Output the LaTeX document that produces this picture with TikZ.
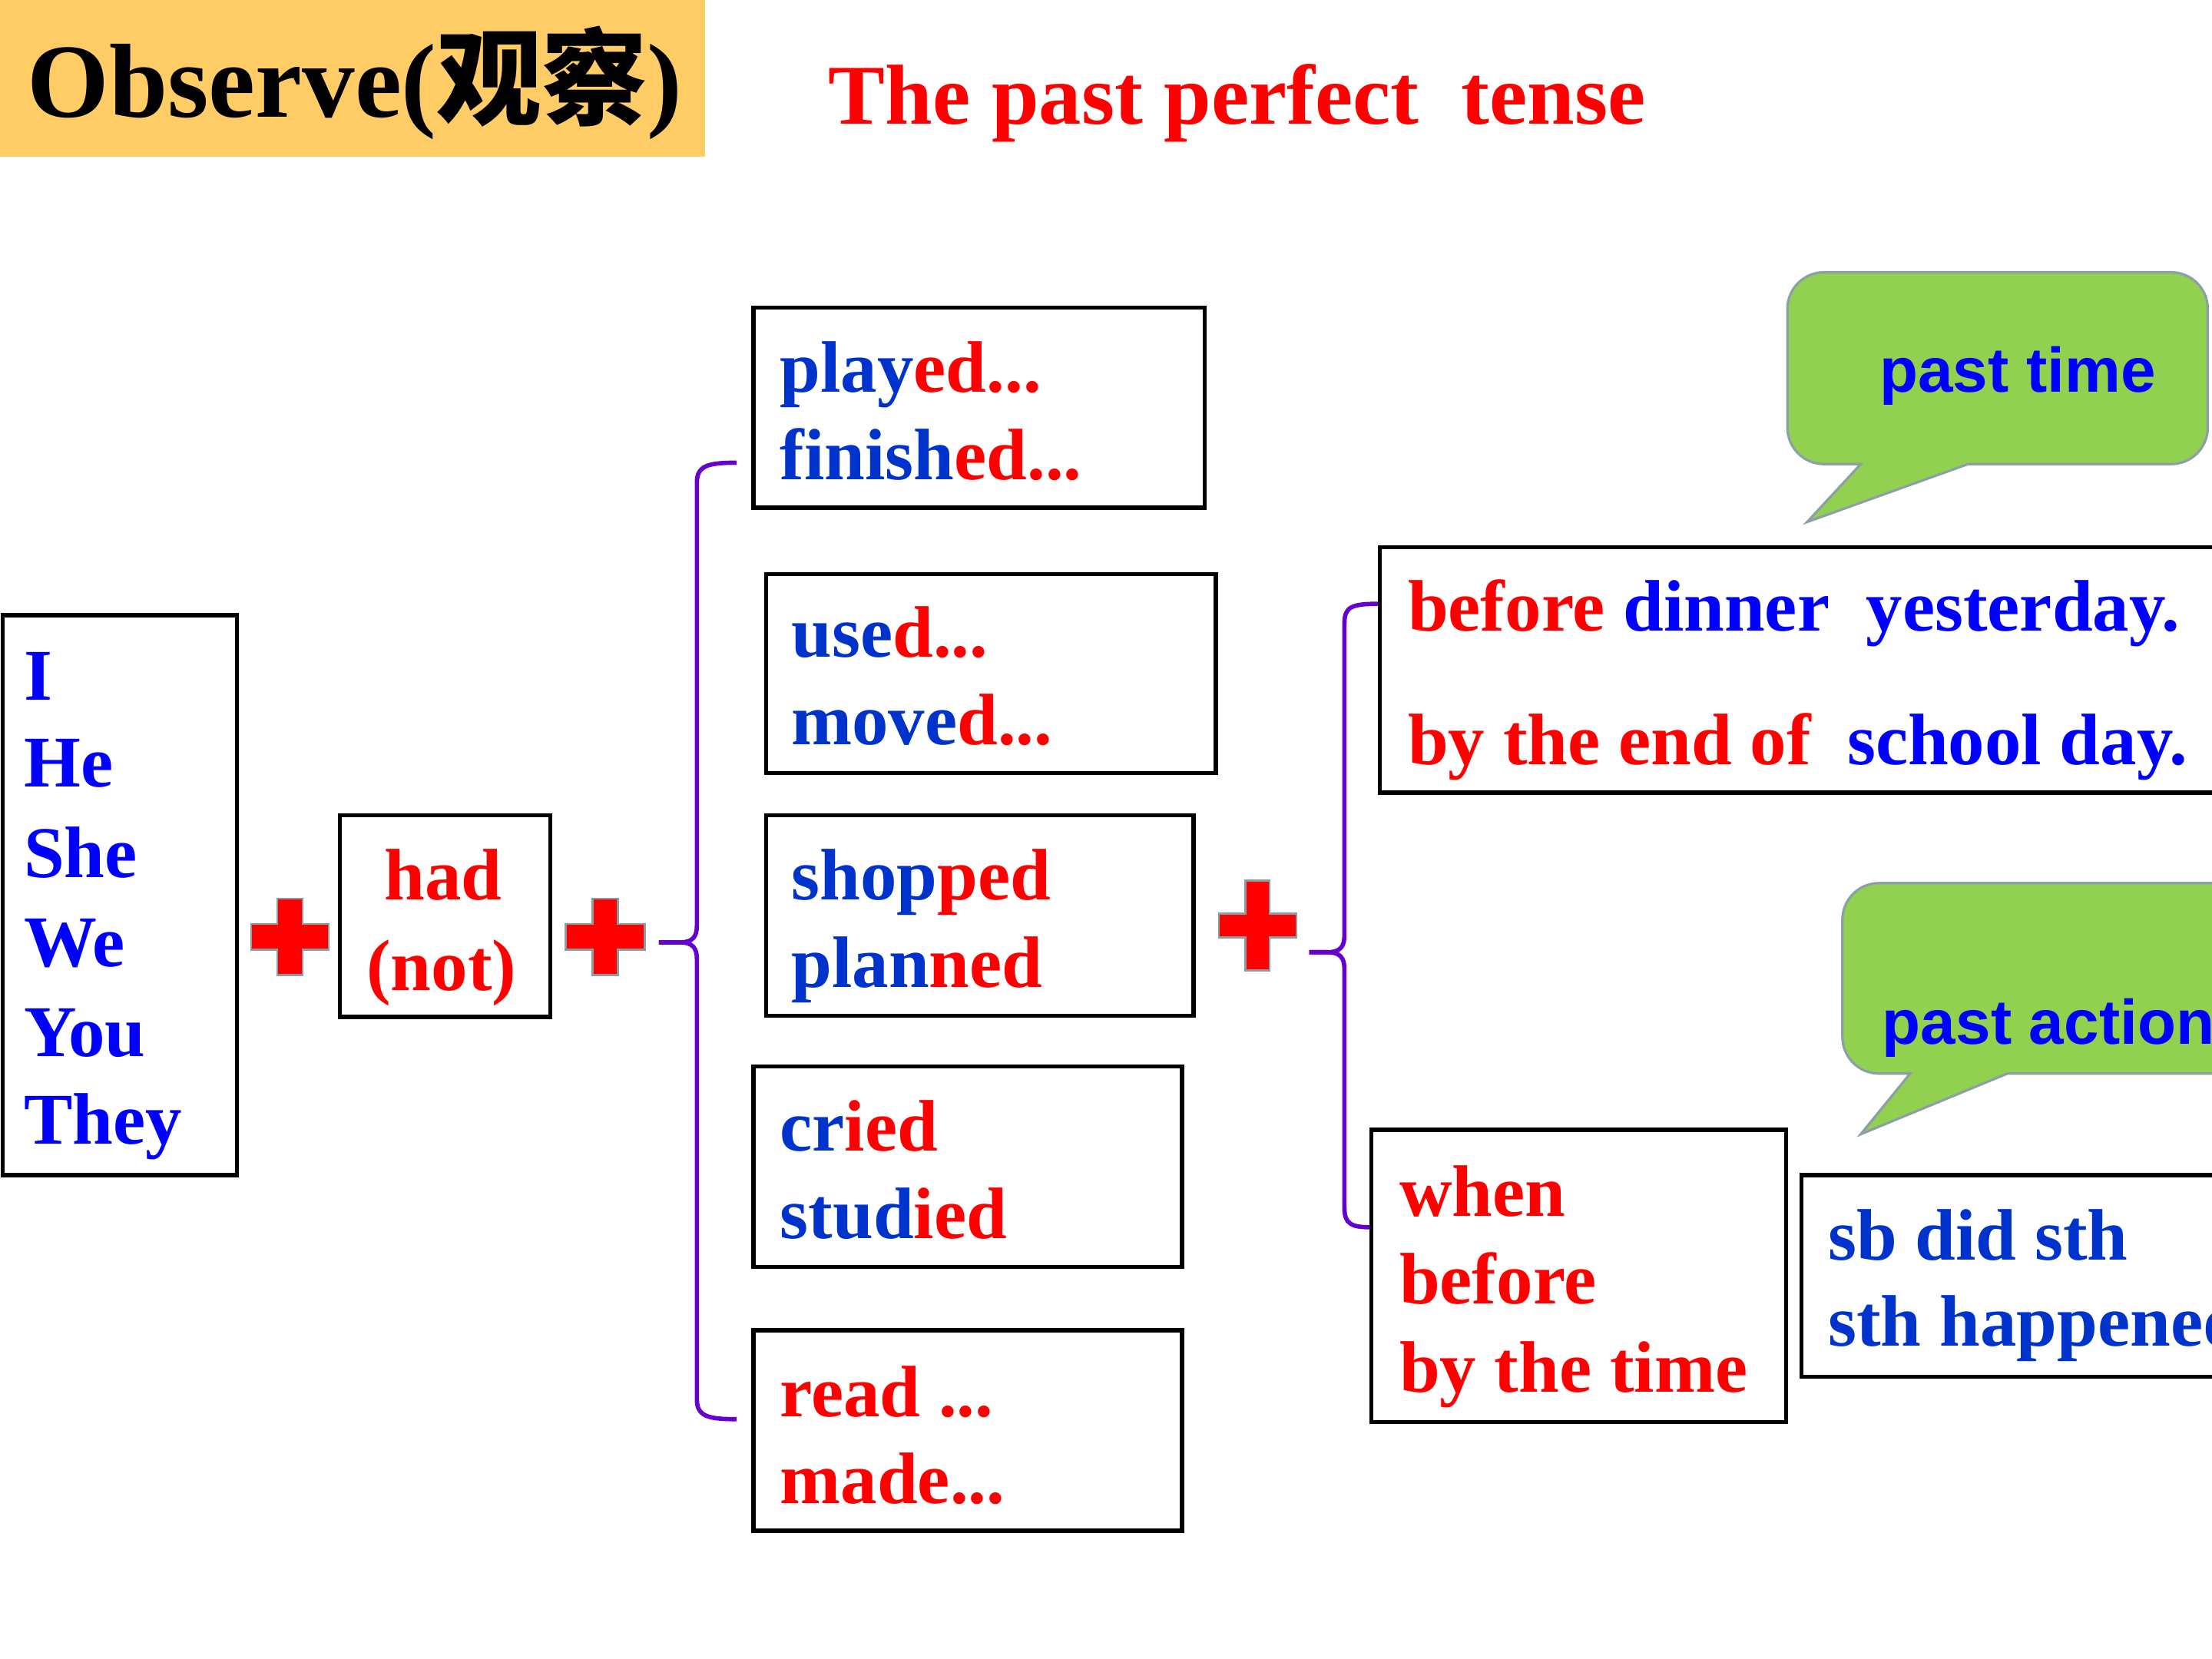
\documentclass[tikz,border=0pt]{standalone}
\usepackage{fontspec}
\setmainfont{Liberation Serif}
\newfontfamily\cjkfont{Noto Sans CJK SC}
\newfontfamily\arialfont{Liberation Sans}
\usetikzlibrary{fit}
\definecolor{vblue}{HTML}{0033CC}
\definecolor{pblue}{HTML}{0000FF}
\definecolor{myred}{HTML}{FF0000}
\definecolor{purp}{HTML}{6600CC}
\definecolor{orng}{HTML}{FFCC66}
\definecolor{bgreen}{HTML}{92D050}
\definecolor{bgrey}{HTML}{8A9FA8}
\definecolor{pgrey}{HTML}{8C9CA4}
\newcommand\redplus[5]{%
  \draw[plusst] ({#1-#5},{#2-#4}) -- ({#1+#5},{#2-#4}) -- ({#1+#5},{#2-#5}) -- ({#1+#3},{#2-#5})
   -- ({#1+#3},{#2+#5}) -- ({#1+#5},{#2+#5}) -- ({#1+#5},{#2+#4}) -- ({#1-#5},{#2+#4})
   -- ({#1-#5},{#2+#5}) -- ({#1-#3},{#2+#5}) -- ({#1-#3},{#2-#5}) -- ({#1-#5},{#2-#5}) -- cycle;}
\newcommand\bl[1]{\textcolor{vblue}{#1}}
\newcommand\rd[1]{\textcolor{myred}{#1}}
\tikzset{
  box/.style={draw=black, line width=1.6pt, inner sep=0pt},
  txt/.style={anchor=base west, inner sep=0pt, outer sep=0pt, font=\fontsize{27pt}{27pt}\selectfont\bfseries},
  ctxt/.style={txt, anchor=base},
  bubtxt/.style={anchor=base west, inner sep=0pt, text=pblue, font=\arialfont\fontsize{23.3pt}{23.3pt}\selectfont\bfseries},
  bracest/.style={draw=purp, line width=1.6pt},
  plusst/.style={fill=myred, draw=pgrey, line width=0.8pt},
  bubble/.style={fill=bgreen, draw=bgrey, line width=0.9pt},
}
\begin{document}
\begin{tikzpicture}[x=0.183673mm, y=-0.183673mm]
\useasboundingbox (0,0) rectangle (1568,1176);
\fill[white] (0,0) rectangle (1568,1176);
\clip (0,0) rectangle (1568,1176);

% title
\node[fill=orng, inner sep=0pt, fit={(0,0) (500,111)}] (titlebox) {};
\node[anchor=base west, inner sep=0pt, font=\fontsize{39pt}{39pt}\selectfont\bfseries] (observe) at (19,83) {Observe({\cjkfont\bfseries 观察})};
\node[anchor=base west, inner sep=0pt, text=myred, font=\fontsize{31.5pt}{31.5pt}\selectfont\bfseries] (tense) at (587,88) {The past perfect\ \ tense};

% pronouns
\node[box, fit={(2,436) (168,833)}] (pron) {};
\node[txt, text=pblue] (p1) at (17,496) {I};
\node[txt, text=pblue] (p2) at (17,558) {He};
\node[txt, text=pblue] (p3) at (17,622) {She};
\node[txt, text=pblue] (p4) at (17,685) {We};
\node[txt, text=pblue] (p5) at (17,749) {You};
\node[txt, text=pblue] (p6) at (17,811) {They};

\redplus{205.5}{664}{27.5}{27}{9}

% had
\node[box, fit={(241,578) (390,721)}] (had) {};
\node[ctxt, text=myred] (had1) at (314,638) {had};
\node[ctxt, text=myred] (had2) at (313,702) {(not)};

\redplus{429}{664}{28}{27}{9}

% brace 1
\coordinate (b1top) at (522,328);
\coordinate (b1bot) at (522,1006);
\coordinate (b1tip) at (467,668);
\draw[bracest] (b1top) .. controls (502,328) and (494,330) .. (494,342) -- (494,656)
  .. controls (494,664) and (491,668) .. (482,668) -- (b1tip);
\draw[bracest] (b1tip) -- (482,668) .. controls (491,668) and (494,672) .. (494,680)
  -- (494,992) .. controls (494,1004) and (502,1006) .. (b1bot);

% verb boxes
\node[box, fit={(534,218) (854,360)}] (played) {};
\node[txt] (v1) at (553,278) {\bl{play}\rd{ed...}};
\node[txt] (v2) at (553,340) {\bl{finish}\rd{ed...}};

\node[box, fit={(543,407) (862,548)}] (used) {};
\node[txt] (v3) at (561,466) {\bl{use}\rd{d...}};
\node[txt] (v4) at (561,528) {\bl{move}\rd{d...}};

\node[box, fit={(543,578) (846,720)}] (shopped) {};
\node[txt] (v5) at (561,638) {\bl{shop}\rd{ped}};
\node[txt] (v6) at (561,700) {\bl{plan}\rd{ned}};

\node[box, fit={(534,756) (838,898)}] (cried) {};
\node[txt] (v7) at (553,816) {\bl{cr}\rd{ied}};
\node[txt] (v8) at (553,878) {\bl{stud}\rd{ied}};

\node[box, fit={(534,943) (838,1085)}] (readb) {};
\node[txt, text=myred] (v9) at (553,1004) {read ...};
\node[txt, text=myred] (v10) at (553,1066) {made...};

\redplus{891.5}{656}{27.5}{32}{8.5}

% brace 2
\coordinate (b2top) at (978,428);
\coordinate (b2bot) at (973,870);
\coordinate (b2tip) at (928,675);
\draw[bracest] (b2top) .. controls (958,428) and (953,430) .. (953,442) -- (953,663)
  .. controls (953,671) and (950,675) .. (941,675) -- (b2tip);
\draw[bracest] (b2tip) -- (941,675) .. controls (950,675) and (953,679) .. (953,687)
  -- (953,856) .. controls (953,868) and (958,870) .. (b2bot);

% time expressions
\node[box, fit={(978,388) (1600,562)}] (timebox) {};
\node[txt] (t1) at (998,447) {\rd{before} \textcolor{pblue}{dinner\ \ yesterday.}};
\node[txt] (t2) at (998,542) {\rd{by the end of}\ \ \textcolor{pblue}{school day.}};

\node[box, fit={(972,801) (1266,1008)}] (whenbox) {};
\node[txt, text=myred] (w1) at (992,862) {when};
\node[txt, text=myred] (w2) at (992,924) {before};
\node[txt, text=myred] (w3) at (992,987) {by the time};

\node[box, fit={(1277,833) (1600,976)}] (sbbox) {};
\node[txt, text=vblue] (s1) at (1296,893) {sb did sth};
\node[txt, text=vblue] (s2) at (1296,954) {sth happened};

% bubbles
\draw[bubble] (1281,370) -- (1395,329) -- (1539,329) .. controls (1553.4,329) and (1565,317.4) .. (1565,303)
  -- (1565,219) .. controls (1565,204.6) and (1553.4,193) .. (1539,193) -- (1293,193)
  .. controls (1278.6,193) and (1267,204.6) .. (1267,219) -- (1267,303)
  .. controls (1267,317.4) and (1278.6,329) .. (1293,329)
  -- (1319,329) -- cycle;
\node[bubtxt] (pt) at (1332,278) {past time};

\draw[bubble] (1319,804) -- (1423,761) -- (1620,761) -- (1620,626) -- (1332,626)
  .. controls (1317.6,626) and (1306,637.6) .. (1306,652) -- (1306,735)
  .. controls (1306,749.4) and (1317.6,761) .. (1332,761)
  -- (1354,761) -- cycle;
\node[bubtxt] (pa) at (1334,740) {past action};
\end{tikzpicture}
\end{document}
